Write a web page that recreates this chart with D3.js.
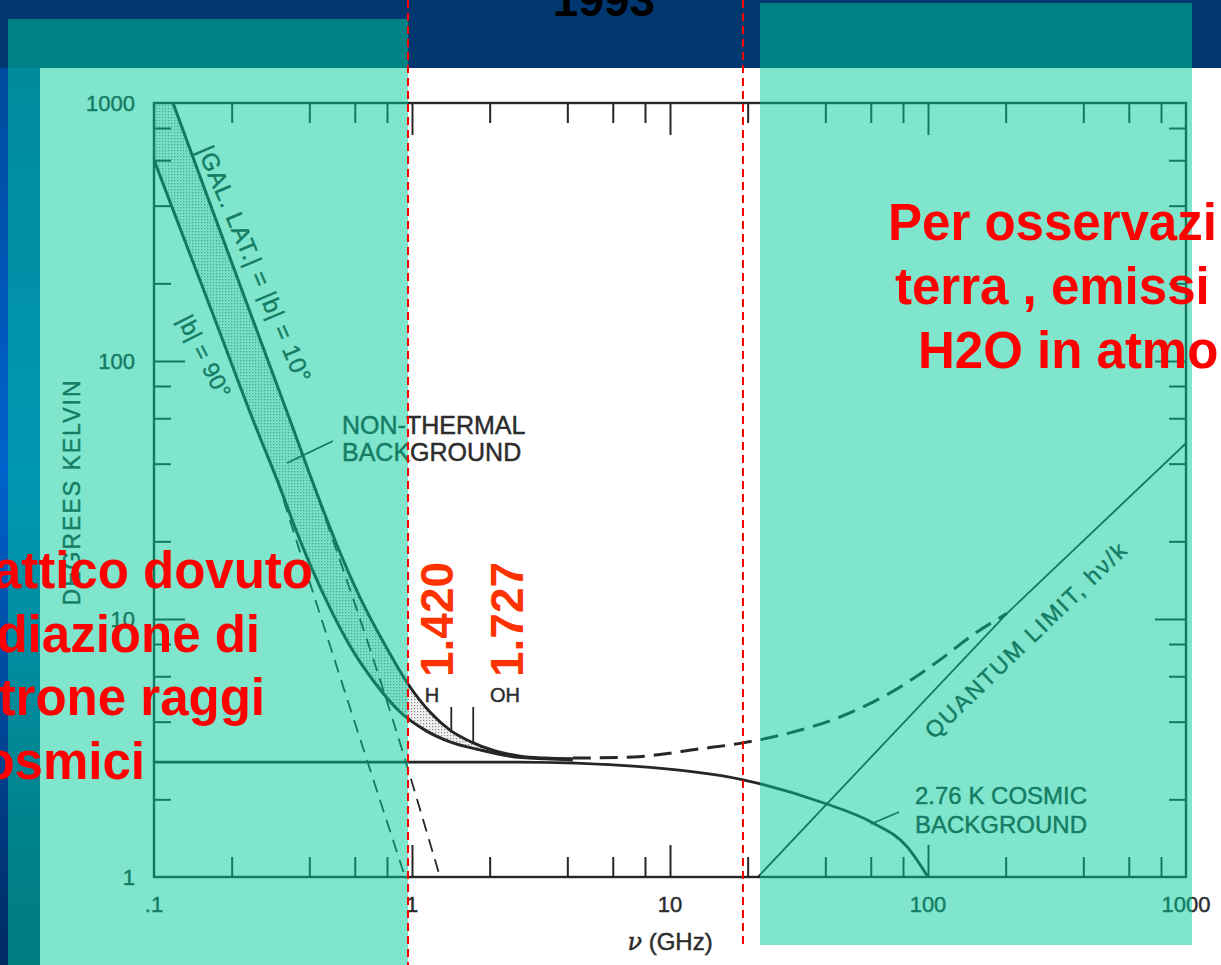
<!DOCTYPE html>
<html>
<head>
<meta charset="utf-8">
<script src="https://cdn.jsdelivr.net/npm/d3@7"></script>
<style>
  html, body { margin: 0; padding: 0; background: #003c7c; overflow: hidden; }
  svg { display: block; }
</style>
</head>
<body>
<svg id="slide" width="1221" height="965"></svg>
<script>
// ---- axis ticks and labels ----
const xDomain = [0.1, 1000];          // frequency, GHz
const yDomain = [1, 1000];            // temperature, K
const xMajorTicks = [0.1, 1, 10, 100, 1000];
const xTickLabels = [".1", "1", "10", "100", "1000"];
const yMajorTicks = [1, 10, 100, 1000];
const yTickLabels = ["1", "10", "100", "1000"];
const minorMultiples = [2, 4, 6, 8];

// ---- curves: [frequency GHz, temperature K] ----
// galactic background plus 2.76 K, |b| = 10 deg (upper edge of the band)
const galLat10 = [
  [0.1185, 1000], [0.2154, 197], [0.3365, 59.1], [0.409, 34.6], [0.503, 20.2],
  [0.629, 12.1], [0.786, 7.93], [0.965, 5.60], [1.174, 4.36], [1.404, 3.71],
  [1.693, 3.34], [2.098, 3.08], [2.622, 2.94], [3.28, 2.89], [4.2, 2.87]
];
// galactic background plus 2.76 K, |b| = 90 deg (lower edge of the band)
const galLat90 = [
  [0.1, 601], [0.172, 145.5], [0.242, 59.1], [0.300, 34.6], [0.368, 20.2],
  [0.460, 12.1], [0.575, 7.86], [0.719, 5.65], [0.899, 4.36], [1.123, 3.71],
  [1.404, 3.34], [1.835, 3.11], [2.398, 2.94], [3.28, 2.87], [4.2, 2.84]
];
// non-thermal component alone (dashed)
const synchrotron90 = [[0.300, 34.6], [0.531, 5.80], [0.94, 1.0]];
const synchrotron10 = [[0.409, 34.6], [0.843, 4.06], [1.284, 1.0]];
// 2.76 K cosmic background
const cosmicBackground = [
  [0.1, 2.79], [2.6, 2.79], [7.2, 2.69], [19.2, 2.38], [39.2, 1.94],
  [61.2, 1.62], [83, 1.31], [100, 1.0]
];
// total noise floor (dashed)
const totalFloor = [
  [4.2, 2.89], [7.2, 2.92], [13.1, 3.14], [19.2, 3.31], [29.2, 3.62],
  [45.6, 4.17], [71.3, 5.17], [111, 6.93], [149, 8.67], [202, 10.5]
];
// quantum limit h nu / k
const quantumLimit = [[21.9, 1.0], [202, 10.5], [1000, 48]];
// spectral lines
const lineMarkers = [
  { name: "H", freq: 1.420, label: "1.420" },
  { name: "OH", freq: 1.727, label: "1.727" }
];

// ---- slide texts ----
const slideTitle = "1993";
const leftNote = ["attico dovuto", "diazione di", "trone raggi", "osmici"];
const rightNote = ["Per osservazi", "terra , emissi", "H2O in atmo"];

const svg = d3.select("#slide");
const ink = "#262626";
const textInk = "#2c2c2c";
const chartFont = "'Liberation Sans', Arial, Helvetica, sans-serif";

const defs = svg.append("defs");
const stripGrad = defs.append("linearGradient")
  .attr("id", "strip").attr("x1", 0).attr("y1", 0).attr("x2", 0).attr("y2", 1);
[[0, "#004a9e"], [0.45, "#0062cc"], [1, "#002a62"]].forEach(([o, c]) =>
  stripGrad.append("stop").attr("offset", o).attr("stop-color", c));
const topGrad = defs.append("linearGradient")
  .attr("id", "topband").attr("x1", 0).attr("y1", 0).attr("x2", 0).attr("y2", 1);
[[0, "#00376f"], [1, "#004184"]].forEach(([o, c]) =>
  topGrad.append("stop").attr("offset", o).attr("stop-color", c));

const dots = defs.append("pattern")
  .attr("id", "stipple").attr("width", 3).attr("height", 3)
  .attr("patternUnits", "userSpaceOnUse");
dots.append("rect").attr("width", 3).attr("height", 3).attr("fill", "#f0f0f0");
dots.append("rect").attr("width", 1.2).attr("height", 1.2).attr("fill", "#888");

// ---- background ----
svg.append("rect").attr("width", 1221).attr("height", 965).attr("fill", "url(#topband)");
svg.append("rect").attr("x", 0).attr("y", 68).attr("width", 40).attr("height", 897)
  .attr("fill", "url(#strip)");
svg.append("rect").attr("x", 40).attr("y", 68).attr("width", 1181).attr("height", 897)
  .attr("fill", "#ffffff");

// ---- chart ----
const x = d3.scaleLog().domain(xDomain).range([154, 1186]);
const y = d3.scaleLog().domain(yDomain).range([877, 103]);

const isMinor = v => {
  const m = v / Math.pow(10, Math.floor(Math.log10(v) + 1e-9));
  return minorMultiples.some(k => Math.abs(m - k) < 1e-6);
};
const xMinor = x.ticks().filter(isMinor);
const yMinor = y.ticks().filter(isMinor);
const xInner = xMajorTicks.slice(1, -1);
const yInner = yMajorTicks.slice(1, -1);

const chart = svg.append("g");

defs.append("clipPath").attr("id", "plotClip").append("rect")
  .attr("x", x(xDomain[0])).attr("y", y(yDomain[1]))
  .attr("width", x(xDomain[1]) - x(xDomain[0]))
  .attr("height", y(yDomain[0]) - y(yDomain[1]));

const plot = chart.append("g").attr("clip-path", "url(#plotClip)");
const line = d3.line().x(d => x(d[0])).y(d => y(d[1])).curve(d3.curveMonotoneX);
const straight = d3.line().x(d => x(d[0])).y(d => y(d[1]));

// stippled band between the two galactic curves
const bandPath = "M" + x(xDomain[0]) + "," + y(yDomain[1]) +
  "L" + line(galLat10).slice(1) +
  "L" + line(galLat90.slice().reverse()).slice(1) + "Z";
plot.append("path").attr("d", bandPath).attr("fill", "url(#stipple)");

plot.append("path").attr("d", line(galLat10)).attr("fill", "none")
  .attr("stroke", ink).attr("stroke-width", 3);
plot.append("path").attr("d", line(galLat90)).attr("fill", "none")
  .attr("stroke", ink).attr("stroke-width", 3);
[synchrotron90, synchrotron10].forEach(s =>
  plot.append("path").attr("d", line(s)).attr("fill", "none")
    .attr("stroke", ink).attr("stroke-width", 1.8).attr("stroke-dasharray", "13,8"));
plot.append("path").attr("d", line(cosmicBackground)).attr("fill", "none")
  .attr("stroke", ink).attr("stroke-width", 2.8);
plot.append("path").attr("d", line(totalFloor)).attr("fill", "none")
  .attr("stroke", ink).attr("stroke-width", 3).attr("stroke-dasharray", "18,9");
plot.append("path").attr("d", straight(quantumLimit)).attr("fill", "none")
  .attr("stroke", ink).attr("stroke-width", 1.8);

// spectral line markers
lineMarkers.forEach((m, i) => {
  chart.append("line")
    .attr("x1", x(m.freq)).attr("x2", x(m.freq))
    .attr("y1", 707).attr("y2", i === 0 ? 731 : 743)
    .attr("stroke", ink).attr("stroke-width", 1.8);
});
const labelText = (sel) => sel.attr("font-family", chartFont).attr("fill", textInk)
  .attr("stroke", textInk).attr("stroke-width", 0.45);
labelText(chart.append("text").attr("x", 432).attr("y", 702).attr("text-anchor", "middle")
  .attr("font-size", 20)).text(lineMarkers[0].name);
labelText(chart.append("text").attr("x", 505).attr("y", 702).attr("text-anchor", "middle")
  .attr("font-size", 20)).text(lineMarkers[1].name);

// frame and ticks
const styleAxis = g => {
  g.select(".domain").remove();
  g.selectAll("line").attr("stroke", ink).attr("stroke-width", 2);
  g.selectAll("text").remove();
};
const y0 = y(yDomain[0]), y1 = y(yDomain[1]), x0 = x(xDomain[0]), x1 = x(xDomain[1]);
chart.append("g").attr("transform", `translate(0,${y0})`)
  .call(d3.axisBottom(x).tickValues(xMinor).tickSizeInner(-20).tickSizeOuter(0)).call(styleAxis);
chart.append("g").attr("transform", `translate(0,${y0})`)
  .call(d3.axisBottom(x).tickValues(xInner).tickSizeInner(-32).tickSizeOuter(0)).call(styleAxis);
chart.append("g").attr("transform", `translate(0,${y1})`)
  .call(d3.axisTop(x).tickValues(xMinor).tickSizeInner(-20).tickSizeOuter(0)).call(styleAxis);
chart.append("g").attr("transform", `translate(0,${y1})`)
  .call(d3.axisTop(x).tickValues(xInner).tickSizeInner(-32).tickSizeOuter(0)).call(styleAxis);
chart.append("g").attr("transform", `translate(${x0},0)`)
  .call(d3.axisLeft(y).tickValues(yMinor).tickSizeInner(-17).tickSizeOuter(0)).call(styleAxis);
chart.append("g").attr("transform", `translate(${x0},0)`)
  .call(d3.axisLeft(y).tickValues(yInner).tickSizeInner(-31).tickSizeOuter(0)).call(styleAxis);
chart.append("g").attr("transform", `translate(${x1},0)`)
  .call(d3.axisRight(y).tickValues(yMinor).tickSizeInner(-17).tickSizeOuter(0)).call(styleAxis);
chart.append("g").attr("transform", `translate(${x1},0)`)
  .call(d3.axisRight(y).tickValues(yInner).tickSizeInner(-31).tickSizeOuter(0)).call(styleAxis);
chart.append("rect").attr("x", x0).attr("y", y1).attr("width", x1 - x0).attr("height", y0 - y1)
  .attr("fill", "none").attr("stroke", ink).attr("stroke-width", 2.4);

// tick labels
xMajorTicks.forEach((v, i) => labelText(chart.append("text")
  .attr("x", x(v)).attr("y", 912).attr("text-anchor", "middle")
  .attr("font-size", 22)).text(xTickLabels[i]));
yMajorTicks.forEach((v, i) => labelText(chart.append("text")
  .attr("x", 135).attr("y", y(v) + 8).attr("text-anchor", "end")
  .attr("font-size", 22)).text(yTickLabels[i]));

// axis titles
labelText(chart.append("text").attr("transform", "translate(80,492) rotate(-90)")
  .attr("text-anchor", "middle").attr("font-size", 23).attr("letter-spacing", 2))
  .text("DEGREES KELVIN");
const xTitle = labelText(chart.append("text").attr("x", 670).attr("y", 950)
  .attr("text-anchor", "middle").attr("font-size", 24));
xTitle.append("tspan").attr("font-style", "italic").attr("font-family", "'DejaVu Serif', serif").text("ν");
xTitle.append("tspan").text(" (GHz)");

// curve annotations
labelText(chart.append("text").attr("transform", "translate(197,150) rotate(67)")
  .attr("font-size", 24).attr("letter-spacing", 0.8))
  .text("|GAL. LAT.| = |b| = 10°");
labelText(chart.append("text").attr("transform", "translate(177,320) rotate(63)")
  .attr("font-size", 23).attr("letter-spacing", 0.5))
  .text("|b| = 90°");
labelText(chart.append("text").attr("x", 342).attr("y", 434).attr("font-size", 25))
  .text("NON-THERMAL");
labelText(chart.append("text").attr("x", 342).attr("y", 461).attr("font-size", 25))
  .text("BACKGROUND");
chart.append("line").attr("x1", 333).attr("y1", 441).attr("x2", 287).attr("y2", 463)
  .attr("stroke", ink).attr("stroke-width", 1.8);
labelText(chart.append("text").attr("x", 915).attr("y", 804).attr("font-size", 24))
  .text("2.76 K COSMIC");
labelText(chart.append("text").attr("x", 915).attr("y", 833).attr("font-size", 24))
  .text("BACKGROUND");
chart.append("line").attr("x1", 871).attr("y1", 824).attr("x2", 899).attr("y2", 812)
  .attr("stroke", ink).attr("stroke-width", 1.8);
labelText(chart.append("text").attr("transform", "translate(934,740) rotate(-44)")
  .attr("font-size", 23).attr("letter-spacing", 2))
  .text("QUANTUM LIMIT, hν/k");

// ---- translucent highlight panels ----
const tint = "#00cc99";
svg.append("rect").attr("x", 8).attr("y", 19).attr("width", 400).attr("height", 946)
  .attr("fill", tint).attr("fill-opacity", 0.5);
svg.append("rect").attr("x", 760).attr("y", 3).attr("width", 432).attr("height", 942)
  .attr("fill", tint).attr("fill-opacity", 0.5);

// ---- red band limits ----
svg.append("line").attr("x1", 408).attr("x2", 408).attr("y1", 0).attr("y2", 965)
  .attr("stroke", "#ff0000").attr("stroke-width", 2).attr("stroke-dasharray", "8,5");
svg.append("line").attr("x1", 743).attr("x2", 743).attr("y1", 0).attr("y2", 948)
  .attr("stroke", "#ff0000").attr("stroke-width", 2).attr("stroke-dasharray", "8,5");

// ---- slide texts ----
const boldFont = "'Liberation Sans', Arial, sans-serif";
svg.append("text").attr("x", 604).attr("y", 16).attr("text-anchor", "middle")
  .attr("font-family", boldFont).attr("font-weight", "bold").attr("font-size", 46)
  .attr("fill", "#000").text(slideTitle);

const leftEnds = [313, 260, 265, 145];
leftNote.forEach((t, i) => svg.append("text")
  .attr("x", leftEnds[i]).attr("y", 588 + i * 63.5).attr("text-anchor", "end")
  .attr("font-family", boldFont).attr("font-weight", "bold").attr("font-size", 51)
  .attr("fill", "#ff0000").text(t));

const rightStarts = [888, 895, 918];
rightNote.forEach((t, i) => svg.append("text")
  .attr("x", rightStarts[i]).attr("y", 240 + i * 64).attr("text-anchor", "start")
  .attr("font-family", boldFont).attr("font-weight", "bold").attr("font-size", 51)
  .attr("fill", "#ff0000").text(t));

lineMarkers.forEach((m, i) => svg.append("text")
  .attr("transform", `translate(${i === 0 ? 453 : 523},677) rotate(-90)`)
  .attr("font-family", boldFont).attr("font-weight", "bold").attr("font-size", 46)
  .attr("fill", "#ff3300").text(m.label));
</script>
</body>
</html>
